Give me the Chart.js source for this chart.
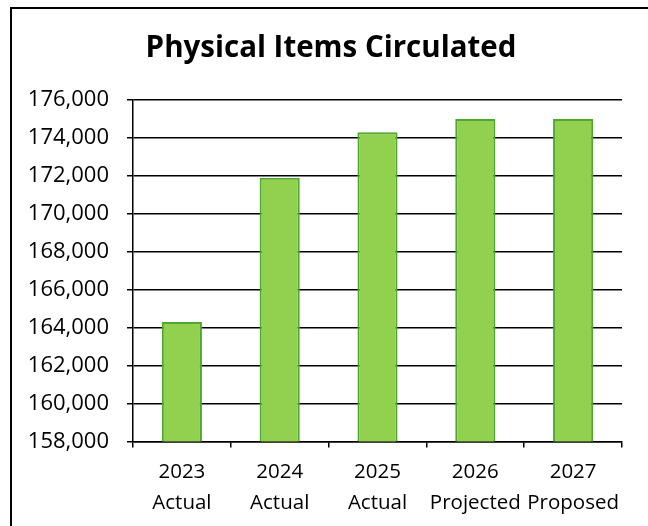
<!DOCTYPE html>
<html>
<head>
<meta charset="utf-8">
<script src="https://cdn.jsdelivr.net/npm/chart.js@4"></script>
<style>
  html, body { margin: 0; padding: 0; background: #fff; }
  #frame { position: absolute; left: 10px; top: 7px; width: 640px; height: 521px;
           border-left: 2px solid #000; border-top: 2px solid #000; }
  #wrap { position: absolute; left: 0; top: 0; width: 648px; height: 526px; }
</style>
</head>
<body>
<div id="frame"></div>
<div id="wrap"><canvas id="chart" width="648" height="526"></canvas></div>
<script>
// --- DATA ---
const years = ['2023', '2024', '2025', '2026', '2027'];
const stages = ['Actual', 'Actual', 'Actual', 'Projected', 'Proposed'];
const itemsCirculated = [164300, 171900, 174300, 175000, 175000];
const yMin = 158000;
const yMax = 176000;
const yStep = 2000;

const labels = years.map((y, i) => [y, stages[i]]);

// the title in the original sits a bit right of the canvas centre
const titleShift = {
  id: 'titleShift',
  afterLayout(chart) {
    if (chart.titleBlock) chart.titleBlock.left += 20;
  }
};

const ctx = document.getElementById('chart').getContext('2d');
new Chart(ctx, {
  type: 'bar',
  data: {
    labels: labels,
    datasets: [{
      label: 'Physical Items Circulated',
      data: itemsCirculated,
      backgroundColor: '#92D050',
      borderColor: '#4EA72E',
      borderWidth: 2,
      borderSkipped: false,
      barPercentage: 0.41,
      categoryPercentage: 1
    }]
  },
  options: {
    responsive: false,
    animation: false,
    layout: { padding: { left: 20, right: 26, top: 0, bottom: 0 } },
    plugins: {
      legend: { display: false },
      tooltip: { enabled: false },
      title: {
        display: true,
        text: 'Physical Items Circulated',
        color: '#000',
        font: { family: 'Open Sans', size: 29.5, weight: 'bold', lineHeight: 1.2 },
        padding: { top: 31, bottom: 33.6 }
      }
    },
    scales: {
      x: {
        grid: { offset: true, drawOnChartArea: false, color: '#000', lineWidth: 1.5, tickLength: 6 },
        border: { display: true, color: '#000', width: 1.5 },
        ticks: {
          color: '#000',
          font: { family: 'Open Sans', size: 20.5, lineHeight: 1.51 },
          padding: 9.5,
          maxRotation: 0
        },
        afterFit: s => { s.height = 84.5; }
      },
      y: {
        min: yMin,
        max: yMax,
        grid: { color: '#000', lineWidth: 1.5, tickLength: 6 },
        border: { display: true, color: '#000', width: 1.5 },
        ticks: {
          stepSize: yStep,
          color: '#000',
          font: { family: 'Open Sans', size: 22 },
          padding: 18,
          callback: v => v.toLocaleString('en-US')
        },
        afterFit: s => { s.width = 113; }
      }
    }
  },
  plugins: [titleShift]
});
</script>
</body>
</html>
